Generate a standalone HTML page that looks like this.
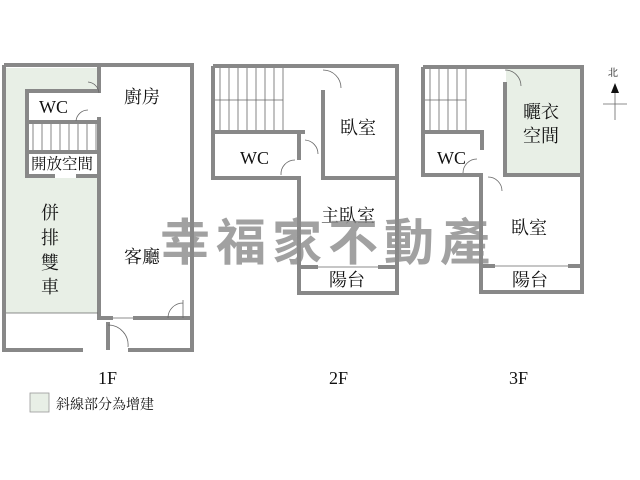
<!DOCTYPE html>
<html><head><meta charset="utf-8"><style>
body{margin:0;background:#fff}
svg{display:block}
text{font-family:"Liberation Serif","Noto Serif CJK SC","Noto Sans CJK TC",serif;fill:#111}
</style></head><body>
<svg width="640" height="480" viewBox="0 0 640 480" xmlns="http://www.w3.org/2000/svg">
<rect x="6" y="68" width="92" height="245" fill="#e8efe6"/>
<rect x="25" y="89" width="76" height="89" fill="#fff"/>
<rect x="506" y="69" width="75" height="104" fill="#e8efe6"/>
<g fill="none" stroke="#888" stroke-width="4">
<path d="M4,65 H192 V350 H128 M83,350 H4 V65"/>
<path d="M99,65 V93 M99,117 V318 H113 M133,318 H190"/>
<path d="M99,91 H27 V176 H55 M76,176 H99"/>
<path d="M27,122 H99 M27,152 H99"/>
<line x1="108" y1="322" x2="108" y2="350"/>
<path d="M213,66 H397 V293 H299 V178 H213 V66"/>
<path d="M213,132 H305 M299,132 V160"/>
<path d="M323,90 V178 H397"/>
<path d="M299,267 H318 M378,267 H397"/>
<path d="M423,67 H582 V292 H481 V175 H423 V67"/>
<path d="M423,132 H484 M482,132 V150"/>
<path d="M505,82 V175 H582"/>
<path d="M481,266 H495 M568,266 H582"/>
</g>
<g fill="none" stroke="#666" stroke-width="0.8">
<line x1="6" y1="313" x2="98" y2="313"/>
<path d="M33,124V150M42,124V150M51,124V150M60,124V150M69,124V150M78,124V150M87,124V150M96,124V150"/>
<path d="M88,82 A12,12 0 0 1 99,93"/><path d="M76,121 A12,12 0 0 1 88,110"/>
<path d="M183,300 V318 M168,318 A15,15 0 0 1 183,303"/>
<path d="M108,325 A20,20 0 0 1 128,347"/>
<line x1="113" y1="318" x2="133" y2="318"/>
<path d="M220,68V130M229,68V130M238,68V130M247,68V130M256,68V130M265,68V130M274,68V130M283,68V130M215,100H283"/>
<path d="M323,70 A18,18 0 0 1 341,88"/><path d="M305,140 A14,14 0 0 1 318,154"/><path d="M281,175 A14,14 0 0 1 295,160"/>
<line x1="318" y1="267" x2="378" y2="267"/>
<path d="M430,69V130M439,69V130M448,69V130M457,69V130M466,69V130M425,100H466"/>
<path d="M505,70 A16,16 0 0 1 521,86"/><path d="M463,173 A14,14 0 0 1 477,159"/><path d="M488,177 A14,14 0 0 1 502,191"/>
<line x1="495" y1="266" x2="568" y2="266"/>
<line x1="603" y1="104" x2="627" y2="104"/><line x1="615" y1="90" x2="615" y2="120"/>
</g>
<path d="M615,83 L611,93 H619 Z" fill="#111"/>
<text x="608" y="76" font-size="10" font-family="Liberation Sans,Noto Sans CJK TC,sans-serif">北</text>
<g font-size="18">
<text x="39" y="113">WC</text>
<text x="124" y="103">廚房</text>
<text x="31" y="169" font-size="15.5">開放空間</text>
<text x="41" y="219">併</text><text x="41" y="244">排</text><text x="41" y="269">雙</text><text x="41" y="293">車</text>
<text x="124" y="263">客廳</text>
<text x="240" y="164">WC</text>
<text x="340" y="134">臥室</text>
<text x="321" y="222">主臥室</text>
<text x="329" y="286">陽台</text>
<text x="437" y="164">WC</text>
<text x="523" y="118">曬衣</text><text x="523" y="142">空間</text>
<text x="511" y="234">臥室</text>
<text x="512" y="286">陽台</text>
<text x="98" y="384">1F</text><text x="329" y="384">2F</text><text x="509" y="384">3F</text>
</g>
<rect x="30" y="393" width="19" height="19" fill="#e8efe6" stroke="#999" stroke-width="0.8"/>
<text x="56" y="409" font-size="14">斜線部分為增建</text>
<text x="160" y="260" font-size="50" font-weight="bold" style="fill:#8a8a8a;opacity:0.8;font-family:'Noto Sans CJK TC',sans-serif;letter-spacing:6px">幸福家不動產</text>
</svg>
</body></html>
